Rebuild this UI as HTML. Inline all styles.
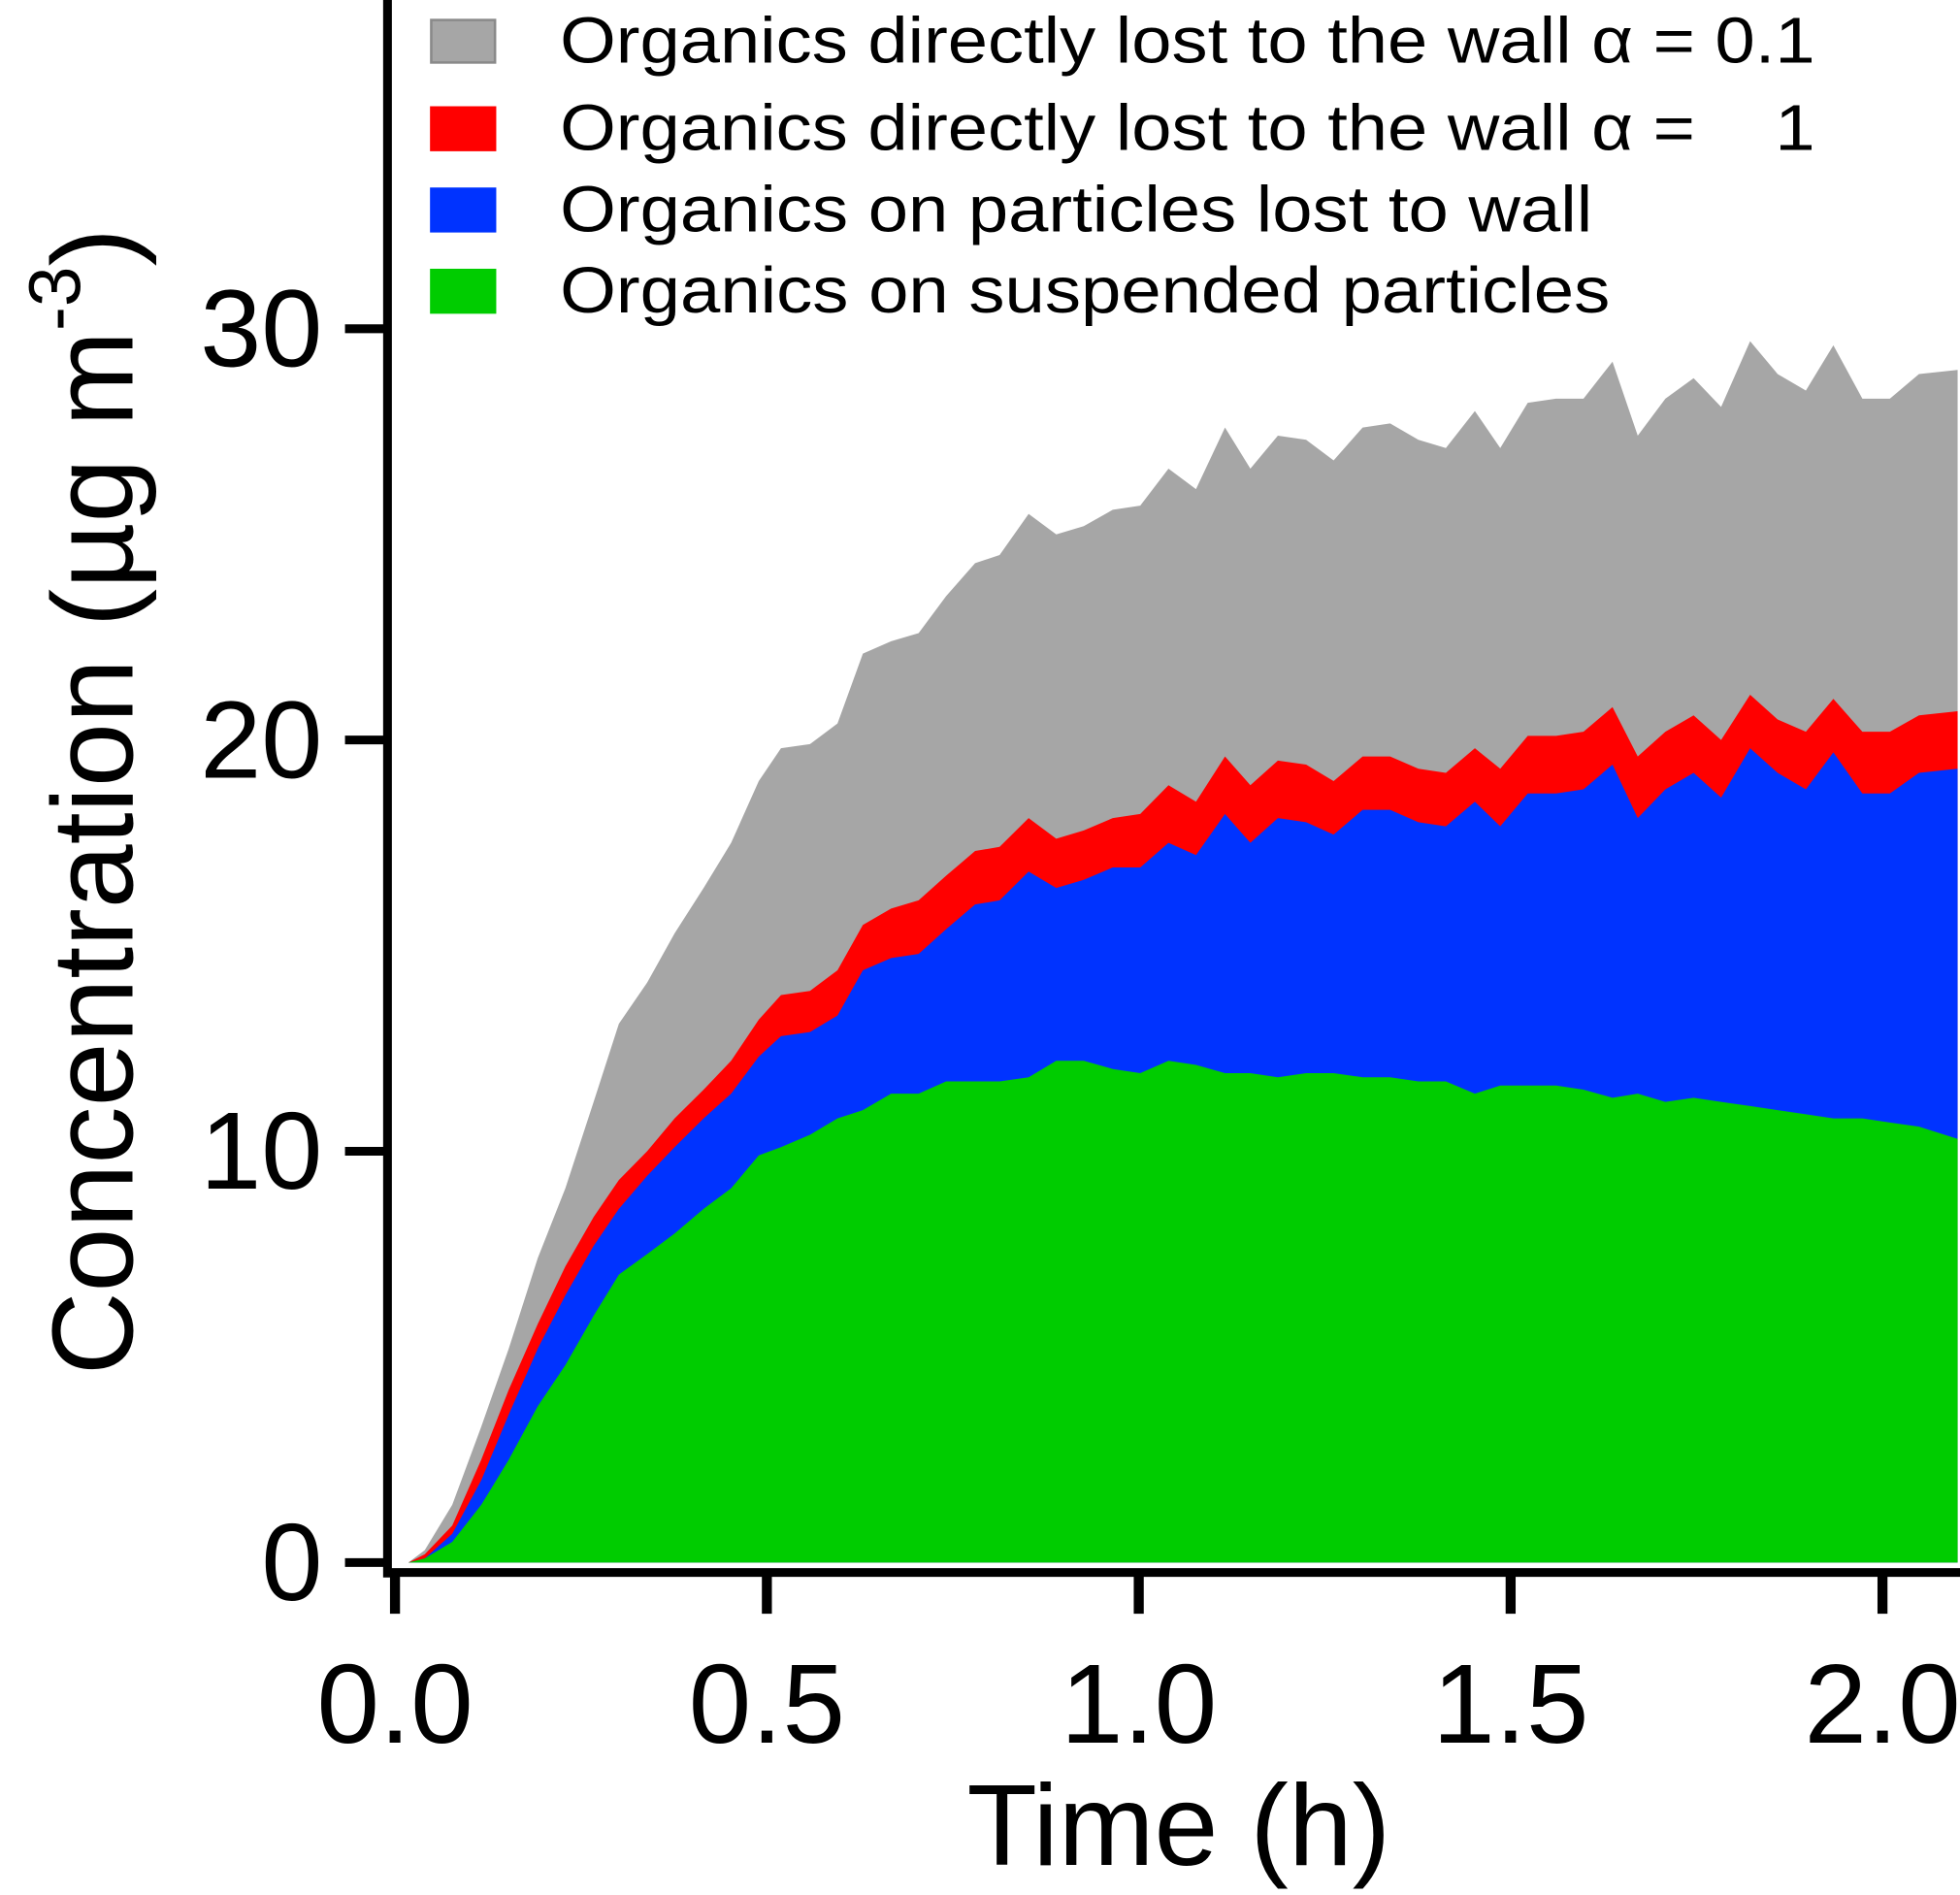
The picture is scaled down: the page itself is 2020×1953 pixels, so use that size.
<!DOCTYPE html>
<html><head><meta charset="utf-8"><style>
html,body{margin:0;padding:0;background:#fff;}
svg{display:block;font-family:"Liberation Sans",Arial,sans-serif;}
</style></head><body>
<svg id="chart" width="2020" height="1953" viewBox="0 0 1568 1516" preserveAspectRatio="none" xmlns="http://www.w3.org/2000/svg">
<g id="areas"></g>
<g id="axes"></g>
<g id="legend">
  <rect x="345" y="16" width="51" height="34" fill="#a6a6a6" stroke="#8a8a8a" stroke-width="2"/>
  <text x="448" y="50" font-size="52" textLength="1004" lengthAdjust="spacingAndGlyphs">Organics directly lost to the wall α = 0.1</text>
  <rect x="344" y="85" width="53" height="36" fill="#ff0000"/>
  <text x="448" y="120" font-size="52" xml:space="preserve" textLength="1004" lengthAdjust="spacingAndGlyphs">Organics directly lost to the wall α =    1</text>
  <rect x="344" y="150" width="53" height="36" fill="#0033ff"/>
  <text x="448" y="185" font-size="52" textLength="826" lengthAdjust="spacingAndGlyphs">Organics on particles lost to wall</text>
  <rect x="344" y="215" width="53" height="36" fill="#00cc00"/>
  <text x="448" y="250" font-size="52" textLength="840" lengthAdjust="spacingAndGlyphs">Organics on suspended particles</text>
</g>
</svg>
<script>
const times=[0.018,0.040,0.077,0.116,0.153,0.192,0.229,0.267,0.301,0.339,0.376,0.415,0.452,0.489,0.519,0.558,0.595,0.629,0.667,0.704,0.741,0.780,0.813,0.852,0.889,0.926,0.965,1.002,1.040,1.077,1.116,1.150,1.187,1.225,1.262,1.301,1.338,1.376,1.413,1.452,1.486,1.523,1.561,1.598,1.637,1.671,1.708,1.746,1.783,1.822,1.859,1.897,1.934,1.973,2.010,2.049,2.101];
const grayTop=[0,0.3,1.4,3.3,5.2,7.4,9.1,11.2,13.1,14.1,15.3,16.4,17.5,19.0,19.8,19.9,20.4,22.1,22.4,22.6,23.5,24.3,24.5,25.5,25.0,25.2,25.6,25.7,26.6,26.1,27.6,26.6,27.4,27.3,26.8,27.6,27.7,27.3,27.1,28.0,27.1,28.2,28.3,28.3,29.2,27.4,28.3,28.8,28.1,29.7,28.9,28.5,29.6,28.3,28.3,28.9,29.0];
const redTop=[0,0.2,0.9,2.5,4.2,5.8,7.2,8.4,9.3,10.0,10.8,11.5,12.2,13.2,13.8,13.9,14.4,15.5,15.9,16.1,16.7,17.3,17.4,18.1,17.6,17.8,18.1,18.2,18.9,18.5,19.6,18.9,19.5,19.4,19.0,19.6,19.6,19.3,19.2,19.8,19.3,20.1,20.1,20.2,20.8,19.6,20.2,20.6,20.0,21.1,20.5,20.2,21.0,20.2,20.2,20.6,20.7];
const blueTop=[0,0.1,0.7,2.0,3.6,5.2,6.5,7.7,8.6,9.4,10.1,10.8,11.4,12.3,12.8,12.9,13.3,14.4,14.7,14.8,15.4,16.0,16.1,16.8,16.4,16.6,16.9,16.9,17.5,17.2,18.2,17.5,18.1,18.0,17.7,18.3,18.3,18.0,17.9,18.5,17.9,18.7,18.7,18.8,19.4,18.1,18.8,19.2,18.6,19.8,19.2,18.8,19.7,18.7,18.7,19.2,19.3];
const greenTop=[0,0.1,0.5,1.4,2.5,3.8,4.8,6.0,7.0,7.5,8.0,8.6,9.1,9.9,10.1,10.4,10.8,11.0,11.4,11.4,11.7,11.7,11.7,11.8,12.2,12.2,12.0,11.9,12.2,12.1,11.9,11.9,11.8,11.9,11.9,11.8,11.8,11.7,11.7,11.4,11.6,11.6,11.6,11.5,11.3,11.4,11.2,11.3,11.2,11.1,11.0,10.9,10.8,10.8,10.7,10.6,10.3];
const yTicks=[0,10,20,30];
const xTicks=["0.0","0.5","1.0","1.5","2.0"];

const NS="http://www.w3.org/2000/svg";
const X=t=>316+t*595;
const Y=v=>1250-v*32.9;
const areas=document.getElementById('areas');
const axes=document.getElementById('axes');
function areaPath(vals){
  let d="M"+X(times[0])+","+Y(0);
  vals.forEach((v,i)=>{d+=" L"+X(times[i]).toFixed(1)+","+Y(v).toFixed(1);});
  d+=" L"+X(times[times.length-1])+","+Y(0)+" Z";
  return d;
}
[["gray",grayTop,"#a6a6a6"],["red",redTop,"#ff0000"],["blue",blueTop,"#0033ff"],["green",greenTop,"#00cc00"]].forEach(s=>{
  const p=document.createElementNS(NS,'path');
  p.setAttribute('d',areaPath(s[1]));
  p.setAttribute('fill',s[2]);
  
  
  areas.appendChild(p);
});
function line(x1,y1,x2,y2,w,name){
  const l=document.createElementNS(NS,'line');
  l.setAttribute('x1',x1);l.setAttribute('y1',y1);l.setAttribute('x2',x2);l.setAttribute('y2',y2);
  l.setAttribute('stroke','#000');l.setAttribute('stroke-width',w);
  
  
  axes.appendChild(l);
}
function text(x,y,s,size,anchor,name){
  const t=document.createElementNS(NS,'text');
  t.setAttribute('x',x);t.setAttribute('y',y);t.setAttribute('font-size',size);t.setAttribute('text-anchor',anchor);
  t.textContent=s;
  
  
  axes.appendChild(t);
  return t;
}
line(310,0,310,1262,7,'y-axis-line');
line(307,1258,1568,1258,7,'x-axis-line');
yTicks.forEach(v=>{
  line(276,Y(v),310,Y(v),7,'y-tick');
  text(258,Y(v)+30,String(v),88,'end','y-tick-label');
});
xTicks.forEach(s=>{
  const v=parseFloat(s);
  line(X(v),1258,X(v),1291,8,'x-tick');
  text(X(v),1394,s,90,'middle','x-tick-label');
});
text(943,1492,"Time (h)",92,'middle','x-axis-title');
const yt=document.createElementNS(NS,'text');
yt.setAttribute('transform','translate(106,1100) rotate(-90)');
yt.setAttribute('font-size',92);
yt.innerHTML='Concentration (µg m<tspan dy="-42" font-size="58">-3</tspan><tspan dy="42">)</tspan>';


axes.appendChild(yt);
</script>
</body></html>
